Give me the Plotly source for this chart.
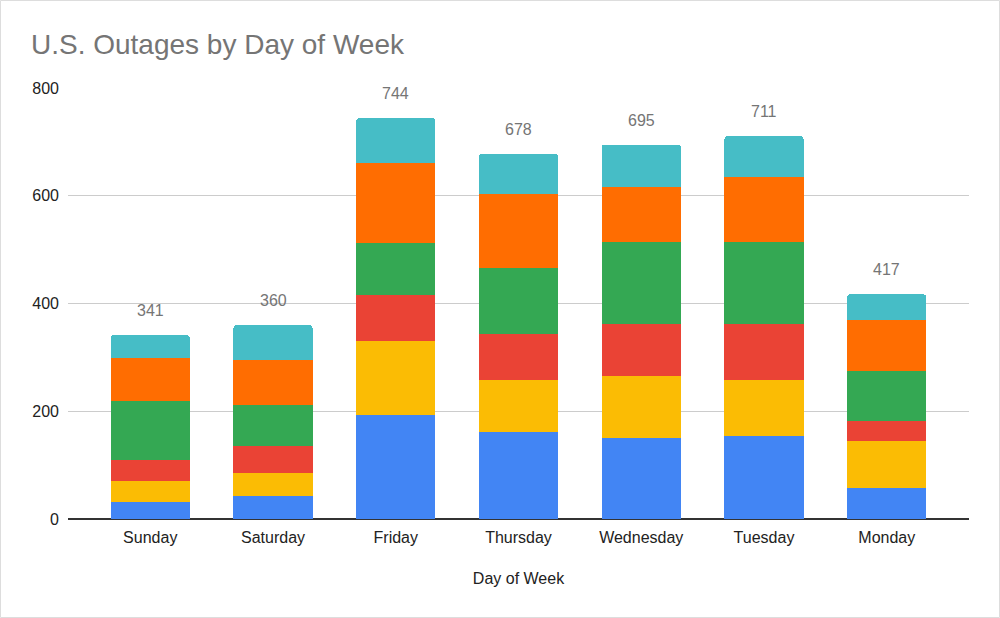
import plotly.graph_objects as go

# Days in the order shown on the chart
days = ["Sunday", "Saturday", "Friday", "Thursday", "Wednesday", "Tuesday", "Monday"]

# Stacked segments, bottom to top
seg_1 = [32, 42, 193, 162, 151, 154, 58]
seg_2 = [39, 44, 137, 96, 114, 104, 86]
seg_3 = [39, 50, 86, 85, 97, 104, 38]
seg_4 = [109, 75, 96, 122, 153, 153, 92]
seg_5 = [80, 85, 148, 138, 101, 119, 96]
seg_6 = [42, 64, 84, 75, 79, 77, 47]

# Totals printed above the bars
totals = [341, 360, 744, 678, 695, 711, 417]

series = [seg_1, seg_2, seg_3, seg_4, seg_5, seg_6]
names = ["Series 1", "Series 2", "Series 3", "Series 4", "Series 5", "Series 6"]
colors = ["#4285F4", "#FBBC04", "#EA4335", "#34A853", "#FF6D01", "#46BDC6"]

font_family = "Arial, Liberation Sans, sans-serif"

fig = go.Figure()

for vals, name, color in zip(series, names, colors):
    fig.add_trace(go.Bar(
        x=days, y=vals, name=name,
        marker=dict(color=color, line=dict(width=0)),
        hoverinfo="x+y+name"
    ))

# Total labels above each stack
for day, tot in zip(days, totals):
    fig.add_annotation(
        x=day, y=tot, text=str(tot),
        showarrow=False, yanchor="bottom", yshift=14,
        font=dict(family=font_family, size=16, color="#757575")
    )

# Light frame round the whole picture
fig.add_shape(
    type="rect", xref="paper", yref="paper",
    x0=-67.5 / 901, x1=931.5 / 901, y0=-98.5 / 431, y1=518.5 / 431,
    line=dict(color="#dddddd", width=1), fillcolor="rgba(0,0,0,0)", layer="below"
)

fig.update_layout(
    width=1000, height=618,
    barmode="stack",
    bargap=0.356,
    barcornerradius=3,
    showlegend=False,
    plot_bgcolor="white",
    paper_bgcolor="white",
    margin=dict(l=68, r=31, t=88, b=99),
    title=dict(
        text="U.S. Outages by Day of Week",
        x=31 / 1000, xanchor="left", xref="container",
        y=1 - 44 / 618, yanchor="middle", yref="container",
        font=dict(family=font_family, size=28, color="#757575")
    ),
    font=dict(family=font_family, size=16, color="#000000"),
    xaxis=dict(
        range=[-0.67, 6.67],
        showgrid=False,
        showline=False,
        ticks="", ticklabelstandoff=7,
        tickfont=dict(size=16, color="#222222"),
        title=dict(text="Day of Week", font=dict(size=16, color="#222222"), standoff=27)
    ),
    yaxis=dict(
        range=[0, 800],
        tickvals=[0, 200, 400, 600, 800],
        showgrid=True, gridcolor="#cccccc", gridwidth=1,
        zeroline=True, zerolinecolor="#333333", zerolinewidth=1.5,
        ticks="", ticklabelstandoff=8,
        tickfont=dict(size=16, color="#222222")
    )
)

# drop the page's default body margin so the figure sits at the top-left corner
fig.write_html(
    "out.html",
    config={"displayModeBar": False},
    post_script="document.body.style.margin='0';"
)
